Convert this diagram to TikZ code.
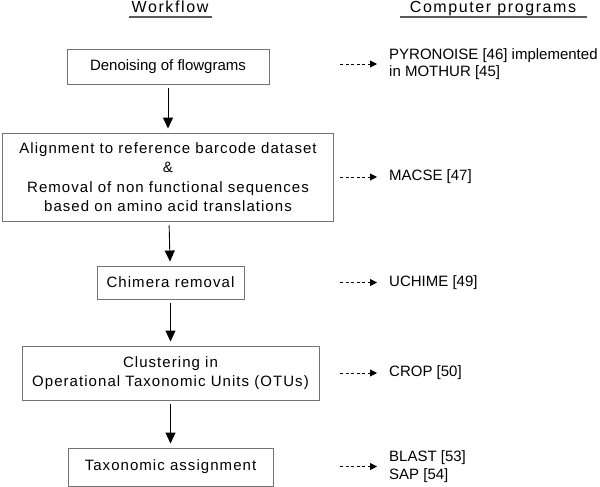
\documentclass[tikz,border=0pt]{standalone}
\usepackage{fontspec}
\setmainfont{Liberation Sans}
\newfontfamily\spacedfont[LetterSpace=7]{Liberation Sans}
\newfontfamily\headfont[LetterSpace=10]{Liberation Sans}
\usetikzlibrary{arrows.meta}
\definecolor{boxgray}{gray}{0.45}
\definecolor{linegray}{gray}{0.35}
\tikzset{
	stepbox/.style={draw=boxgray, line width=0.9pt, align=center, inner sep=0pt,
		font=\spacedfont\fontsize{15}{19.3}\selectfont},
	progtext/.style={anchor=west, align=left, inner xsep=12pt, inner ysep=0pt,
		font=\fontsize{15}{17.5}\selectfont},
	headtext/.style={anchor=base, font=\headfont\fontsize{16}{18}\selectfont},
	flow/.style={line width=0.9pt, -{Triangle[width=10pt,length=11pt]},
		shorten <=4pt, shorten >=4pt},
	progarrow/.style={line width=0.8pt, dash pattern=on 3pt off 2.5pt,
		-{Triangle[width=7pt,length=7pt]}}
}

\begin{document}
\begin{tikzpicture}[x=1pt, y=-1pt]
		%%%%% START %%%%%
		\useasboundingbox (0, 0) rectangle (600, 487);
		
		% column heads
		\node[headtext] (wfhead) at (170, 13) {Workflow};
		\node[headtext] (cphead) at (493, 13) {Computer programs};
		\draw[linegray, line width=1.5pt] (129, 17) -- (212, 17);
		\draw[linegray, line width=1.5pt] (400, 17) -- (587, 17);
		
		% workflow steps
		\node[stepbox, minimum width=202pt, minimum height=35pt, font=\fontsize{15}{19.3}\selectfont] (den) at (168, 66.5) {Denoising of flowgrams};
		\node[stepbox, minimum width=331pt, minimum height=88pt] (aln) at (168, 177) {Alignment to reference barcode dataset\\ \&\\ Removal of non functional sequences\\ based on amino acid translations};
		\node[stepbox, minimum width=147pt, minimum height=33pt] (chi) at (170.5, 282.5) {Chimera removal};
		\node[stepbox, minimum width=297pt, minimum height=54pt] (clu) at (170.5, 373) {Clustering in\\ Operational Taxonomic Units (OTUs)};
		\node[stepbox, minimum width=205pt, minimum height=38pt] (tax) at (170.5, 467) {Taxonomic assignment};
		
		\draw[flow] (den) -- (aln);
		\draw[flow] (aln) -- (chi);
		\draw[flow] (chi) -- (clu);
		\draw[flow] (clu) -- (tax);
		
		% programs
		\node[progtext] (pyro) at (377, 64) {PYRONOISE [46] implemented\\ in MOTHUR [45]};
		\node[progtext] (macse) at (377, 177) {MACSE [47]};
		\node[progtext] (uchime) at (377, 282.5) {UCHIME [49]};
		\node[progtext] (crop) at (377, 373) {CROP [50]};
		\node[progtext] (blast) at (377, 466.5) {BLAST [53]\\ SAP [54]};
		
		\coordinate (d1) at (340, 64);
		\coordinate (d2) at (340, 177);
		\coordinate (d3) at (340, 282.5);
		\coordinate (d4) at (340, 373);
		\coordinate (d5) at (340, 466.5);
		
		\draw[progarrow] (d1) -- (pyro);
		\draw[progarrow] (d2) -- (macse);
		\draw[progarrow] (d3) -- (uchime);
		\draw[progarrow] (d4) -- (crop);
		\draw[progarrow] (d5) -- (blast);
		
		%%%%% END %%%%%
	\end{tikzpicture}
\end{document}
